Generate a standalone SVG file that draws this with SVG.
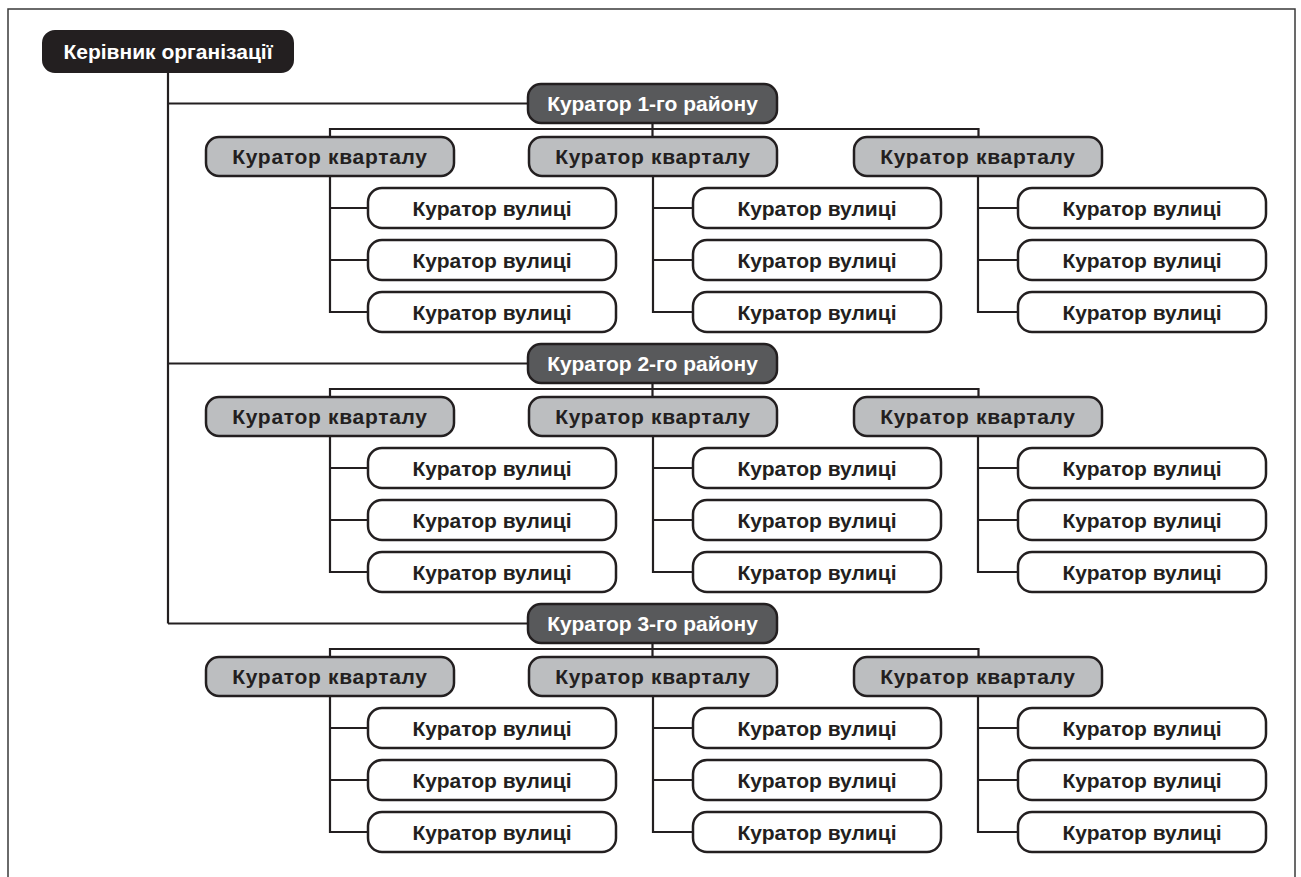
<svg xmlns="http://www.w3.org/2000/svg" width="1301" height="877" viewBox="0 0 1301 877">
<style>
.frame{fill:#fff;stroke:#3a3a3a;stroke-width:1.5}
.ln{fill:none;stroke:#231f20;stroke-width:2.2}
.root{fill:#231f20;stroke:#231f20;stroke-width:2}
.dist{fill:#58595b;stroke:#231f20;stroke-width:2.5}
.kv{fill:#bcbec0;stroke:#231f20;stroke-width:2.5}
.st{fill:#fff;stroke:#231f20;stroke-width:2.5}
text{font-family:"Liberation Sans",Arial,sans-serif;font-weight:bold;font-size:21px;text-anchor:middle}
.w{fill:#fff}
.b{fill:#231f20}
.kt{letter-spacing:0.7px}
</style>
<rect class="frame" x="8" y="9" width="1287" height="880"/>
<g id="connectors">
<path class="ln" d="M168 72V623.5M168 103.5H528M168 363.5H528M168 623.5H528"/>
<path class="ln" d="M652.5 123V137M330 137V129H978.5V137"/>
<path class="ln" d="M652.5 383V397M330 397V389H978.5V397"/>
<path class="ln" d="M652.5 643V657M330 657V649H978.5V657"/>
<path class="ln" d="M330 176V312H368M330 208H368M330 260H368M653 176V312H693M653 208H693M653 260H693M978 176V312H1018M978 208H1018M978 260H1018"/>
<path class="ln" d="M330 436V572H368M330 468H368M330 520H368M653 436V572H693M653 468H693M653 520H693M978 436V572H1018M978 468H1018M978 520H1018"/>
<path class="ln" d="M330 696V832H368M330 728H368M330 780H368M653 696V832H693M653 728H693M653 780H693M978 696V832H1018M978 728H1018M978 780H1018"/>
</g>
<g id="root"><rect class="root" x="43" y="31" width="250" height="41" rx="12"/><text class="w" x="168" y="59">Керівник організації</text></g>

<g id="d1"><rect class="dist" x="528" y="84" width="249" height="39" rx="13"/><text class="w" x="652.5" y="111">Куратор 1-го району</text></g>
<g id="d1k1"><rect class="kv" x="206" y="137" width="248" height="39" rx="13"/><text class="b kt" x="330" y="164">Куратор кварталу</text></g>
<g id="d1k2"><rect class="kv" x="529" y="137" width="248" height="39" rx="13"/><text class="b kt" x="653" y="164">Куратор кварталу</text></g>
<g id="d1k3"><rect class="kv" x="854" y="137" width="248" height="39" rx="13"/><text class="b kt" x="978" y="164">Куратор кварталу</text></g>
<g id="d1k1s1"><rect class="st" x="368" y="188" width="248" height="40" rx="14"/><text class="b" x="492" y="215.5">Куратор вулиці</text></g>
<g id="d1k1s2"><rect class="st" x="368" y="240" width="248" height="40" rx="14"/><text class="b" x="492" y="267.5">Куратор вулиці</text></g>
<g id="d1k1s3"><rect class="st" x="368" y="292" width="248" height="40" rx="14"/><text class="b" x="492" y="319.5">Куратор вулиці</text></g>
<g id="d1k2s1"><rect class="st" x="693" y="188" width="248" height="40" rx="14"/><text class="b" x="817" y="215.5">Куратор вулиці</text></g>
<g id="d1k2s2"><rect class="st" x="693" y="240" width="248" height="40" rx="14"/><text class="b" x="817" y="267.5">Куратор вулиці</text></g>
<g id="d1k2s3"><rect class="st" x="693" y="292" width="248" height="40" rx="14"/><text class="b" x="817" y="319.5">Куратор вулиці</text></g>
<g id="d1k3s1"><rect class="st" x="1018" y="188" width="248" height="40" rx="14"/><text class="b" x="1142" y="215.5">Куратор вулиці</text></g>
<g id="d1k3s2"><rect class="st" x="1018" y="240" width="248" height="40" rx="14"/><text class="b" x="1142" y="267.5">Куратор вулиці</text></g>
<g id="d1k3s3"><rect class="st" x="1018" y="292" width="248" height="40" rx="14"/><text class="b" x="1142" y="319.5">Куратор вулиці</text></g>

<g id="d2"><rect class="dist" x="528" y="344" width="249" height="39" rx="13"/><text class="w" x="652.5" y="371">Куратор 2-го району</text></g>
<g id="d2k1"><rect class="kv" x="206" y="397" width="248" height="39" rx="13"/><text class="b kt" x="330" y="424">Куратор кварталу</text></g>
<g id="d2k2"><rect class="kv" x="529" y="397" width="248" height="39" rx="13"/><text class="b kt" x="653" y="424">Куратор кварталу</text></g>
<g id="d2k3"><rect class="kv" x="854" y="397" width="248" height="39" rx="13"/><text class="b kt" x="978" y="424">Куратор кварталу</text></g>
<g id="d2k1s1"><rect class="st" x="368" y="448" width="248" height="40" rx="14"/><text class="b" x="492" y="475.5">Куратор вулиці</text></g>
<g id="d2k1s2"><rect class="st" x="368" y="500" width="248" height="40" rx="14"/><text class="b" x="492" y="527.5">Куратор вулиці</text></g>
<g id="d2k1s3"><rect class="st" x="368" y="552" width="248" height="40" rx="14"/><text class="b" x="492" y="579.5">Куратор вулиці</text></g>
<g id="d2k2s1"><rect class="st" x="693" y="448" width="248" height="40" rx="14"/><text class="b" x="817" y="475.5">Куратор вулиці</text></g>
<g id="d2k2s2"><rect class="st" x="693" y="500" width="248" height="40" rx="14"/><text class="b" x="817" y="527.5">Куратор вулиці</text></g>
<g id="d2k2s3"><rect class="st" x="693" y="552" width="248" height="40" rx="14"/><text class="b" x="817" y="579.5">Куратор вулиці</text></g>
<g id="d2k3s1"><rect class="st" x="1018" y="448" width="248" height="40" rx="14"/><text class="b" x="1142" y="475.5">Куратор вулиці</text></g>
<g id="d2k3s2"><rect class="st" x="1018" y="500" width="248" height="40" rx="14"/><text class="b" x="1142" y="527.5">Куратор вулиці</text></g>
<g id="d2k3s3"><rect class="st" x="1018" y="552" width="248" height="40" rx="14"/><text class="b" x="1142" y="579.5">Куратор вулиці</text></g>

<g id="d3"><rect class="dist" x="528" y="604" width="249" height="39" rx="13"/><text class="w" x="652.5" y="631">Куратор 3-го району</text></g>
<g id="d3k1"><rect class="kv" x="206" y="657" width="248" height="39" rx="13"/><text class="b kt" x="330" y="684">Куратор кварталу</text></g>
<g id="d3k2"><rect class="kv" x="529" y="657" width="248" height="39" rx="13"/><text class="b kt" x="653" y="684">Куратор кварталу</text></g>
<g id="d3k3"><rect class="kv" x="854" y="657" width="248" height="39" rx="13"/><text class="b kt" x="978" y="684">Куратор кварталу</text></g>
<g id="d3k1s1"><rect class="st" x="368" y="708" width="248" height="40" rx="14"/><text class="b" x="492" y="735.5">Куратор вулиці</text></g>
<g id="d3k1s2"><rect class="st" x="368" y="760" width="248" height="40" rx="14"/><text class="b" x="492" y="787.5">Куратор вулиці</text></g>
<g id="d3k1s3"><rect class="st" x="368" y="812" width="248" height="40" rx="14"/><text class="b" x="492" y="839.5">Куратор вулиці</text></g>
<g id="d3k2s1"><rect class="st" x="693" y="708" width="248" height="40" rx="14"/><text class="b" x="817" y="735.5">Куратор вулиці</text></g>
<g id="d3k2s2"><rect class="st" x="693" y="760" width="248" height="40" rx="14"/><text class="b" x="817" y="787.5">Куратор вулиці</text></g>
<g id="d3k2s3"><rect class="st" x="693" y="812" width="248" height="40" rx="14"/><text class="b" x="817" y="839.5">Куратор вулиці</text></g>
<g id="d3k3s1"><rect class="st" x="1018" y="708" width="248" height="40" rx="14"/><text class="b" x="1142" y="735.5">Куратор вулиці</text></g>
<g id="d3k3s2"><rect class="st" x="1018" y="760" width="248" height="40" rx="14"/><text class="b" x="1142" y="787.5">Куратор вулиці</text></g>
<g id="d3k3s3"><rect class="st" x="1018" y="812" width="248" height="40" rx="14"/><text class="b" x="1142" y="839.5">Куратор вулиці</text></g>
</svg>
